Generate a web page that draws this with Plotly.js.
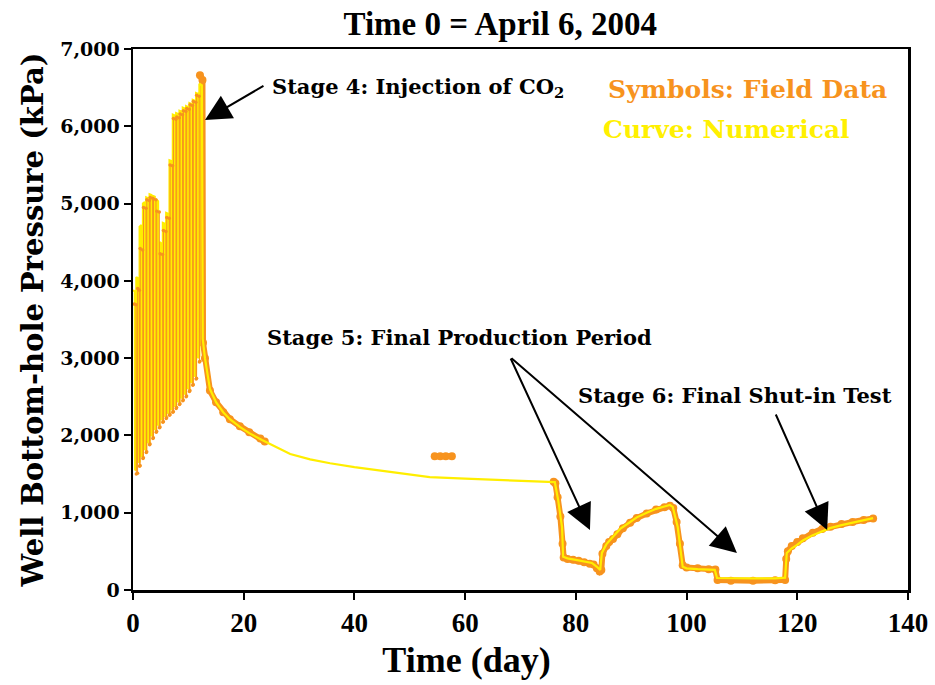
<!DOCTYPE html>
<html>
<head>
<meta charset="utf-8">
<script src="https://cdn.plot.ly/plotly-3.0.1.min.js"></script>
<style>html,body{margin:0;padding:0;background:#fff;}#chart{width:935px;height:685px;}</style>
</head>
<body>
<div id="chart"></div>
<script>
// Numerical (curve) results: time in days, bottom-hole pressure in kPa
const numTime = [
  0.00, 0.33, 0.38, 0.58,
  0.60, 0.93, 0.98, 1.18,
  1.20, 1.53, 1.58, 1.78,
  1.80, 2.13, 2.18, 2.38,
  2.40, 2.73, 2.78, 2.98,
  3.00, 3.33, 3.38, 3.58,
  3.60, 3.93, 3.98, 4.18,
  4.20, 4.53, 4.58, 4.78,
  4.80, 5.13, 5.18, 5.38,
  5.40, 5.73, 5.78, 5.98,
  6.00, 6.33, 6.38, 6.58,
  6.60, 6.93, 6.98, 7.18,
  7.20, 7.53, 7.58, 7.78,
  7.80, 8.13, 8.18, 8.38,
  8.40, 8.73, 8.78, 8.98,
  9.00, 9.33, 9.38, 9.58,
  9.60, 9.93, 9.98, 10.18,
  10.20, 10.53, 10.58, 10.78,
  10.80, 11.13, 11.18, 11.38,
  11.40, 11.73, 11.78, 11.98,
  12.00, 12.45, 12.60,
  13.0, 13.9, 15.0, 16.3, 17.5, 19.3, 21.0, 23.3, 26.0, 28.4, 32.0, 35.6, 40.0, 45.0, 50.0, 53.6, 60.0, 65.0, 70.0, 75.0, 76.2,
  76.8, 77.5, 77.7, 78.5, 80.0, 81.5, 82.9, 83.8, 84.4,
  84.7, 85.5, 86.7, 88.0, 89.8, 91.0, 92.8, 94.5, 96.0, 97.0,
  97.5, 98.4, 99.3, 100.0, 102.0, 104.0, 105.1,
  105.5, 108.0, 112.0, 116.0, 117.8,
  118.1, 119.0, 119.9, 121.0, 122.8, 124.5, 125.9, 128.0, 130.0, 132.0, 133.7
];
const numBHP = [
  3880, 3860, 1550, 1560,
  4050, 4030, 1650, 1660,
  4700, 4720, 1720, 1740,
  5000, 5020, 1810, 1820,
  5080, 5070, 1900, 1910,
  5120, 5110, 1990, 2000,
  5100, 5090, 2070, 2080,
  5050, 5030, 2130, 2140,
  4500, 4480, 2200, 2210,
  4750, 4740, 2240, 2250,
  4880, 4870, 2280, 2290,
  5560, 5550, 2330, 2340,
  6150, 6140, 2370, 2380,
  6170, 6160, 2430, 2440,
  6200, 6190, 2480, 2490,
  6240, 6230, 2530, 2540,
  6260, 6250, 2600, 2610,
  6300, 6290, 2680, 2690,
  6340, 6330, 2760, 2780,
  6430, 6420, 3000, 3020,
  6550, 6530, 3250,
  3000, 2600, 2430, 2300, 2210, 2110, 2030, 1940, 1850, 1760, 1690, 1640, 1590, 1540, 1490, 1460, 1440, 1425, 1410, 1400, 1395,
  1165, 815, 430, 410, 390, 370, 350, 300, 260,
  480, 590, 690, 790, 880, 940, 1000, 1050, 1080, 1100,
  1075, 815, 300, 280, 270, 265, 260,
  155, 150, 150, 150, 160,
  480, 540, 580, 640, 710, 760, 800, 840, 870, 900, 930
];

// Field data (symbols) during the injection cycles, days / kPa
const fieldCycleTime = [
  0.25, 0.55, 0.60, 0.83,
  0.85, 1.15, 1.20, 1.28,
  1.30, 1.75, 1.80, 1.88,
  1.90, 2.35, 2.40, 2.48,
  2.50, 2.95, 3.00, 3.08,
  3.10, 3.55, 3.60, 3.68,
  3.70, 4.15, 4.20, 4.28,
  4.30, 4.75, 4.80, 4.88,
  4.90, 5.35, 5.40, 5.48,
  5.50, 5.95, 6.00, 6.08,
  6.10, 6.55, 6.60, 6.68,
  6.70, 7.15, 7.20, 7.28,
  7.30, 7.75, 7.80, 7.88,
  7.90, 8.35, 8.40, 8.48,
  8.50, 8.95, 9.00, 9.08,
  9.10, 9.55, 9.60, 9.68,
  9.70, 10.15, 10.20, 10.28,
  10.30, 10.75, 10.80, 10.88,
  10.90, 11.35, 11.40, 11.48,
  11.50, 11.95, 12.00, 12.08
];
const fieldCycleBHP = [
  3700, 3690, 1500, 1510,
  3900, 3880, 1600, 1610,
  4420, 4400, 1700, 1710,
  4950, 4940, 1780, 1790,
  5050, 5040, 1880, 1890,
  5080, 5070, 1960, 1970,
  5060, 5050, 2040, 2050,
  4900, 4890, 2100, 2110,
  4350, 4340, 2170, 2180,
  4650, 4640, 2220, 2230,
  4820, 4810, 2260, 2270,
  5500, 5490, 2300, 2310,
  6100, 6090, 2350, 2360,
  6120, 6110, 2400, 2410,
  6160, 6150, 2450, 2460,
  6200, 6190, 2500, 2510,
  6230, 6220, 2570, 2580,
  6280, 6270, 2650, 2660,
  6320, 6310, 2730, 2740,
  6400, 6390, 2950, 2960
];

// Field data (symbols) after the last injection, days / kPa (null = no data gap)
const fieldTime = [
  12.10, 12.55, 12.65,
  13.0, 13.9, 15.0, 16.3, 17.5, 19.3, 21.0, 23.0, 23.8,
  null,
  54.5, 55.5, 56.5, 57.6,
  null,
  76.0, 76.3, 76.7, 77.2, 77.6, 77.8, 78.5, 79.5, 80.5, 81.5, 82.5, 83.2, 83.8, 84.3, 84.6,
  84.8, 85.5, 86.0, 86.7, 87.5, 88.5, 89.8, 91.0, 92.8, 94.5, 96.0, 97.0,
  97.6, 98.2, 98.8, 99.3, 100.0, 102.0, 104.0, 105.2,
  105.6, 108.0, 112.0, 116.0, 117.8,
  118.0, 118.3, 119.0, 120.0, 121.0, 122.8, 124.5, 126.0, 128.0, 130.0, 132.0, 133.7
];
const fieldBHP = [
  6660, 6600, 3200,
  3000, 2580, 2430, 2300, 2210, 2120, 2040, 1960, 1920,
  null,
  1730, 1730, 1730, 1730,
  null,
  1400, 1380, 1200, 950, 600, 420, 400, 390, 380, 360, 340, 330, 280, 240, 260,
  470, 570, 620, 660, 720, 800, 870, 930, 990, 1040, 1070, 1090,
  1060, 880, 600, 320, 290, 280, 270, 265,
  130, 120, 120, 125, 130,
  400, 500, 570, 620, 670, 740, 790, 820, 855, 880, 905, 925
];

const xTicks = [0, 20, 40, 60, 80, 100, 120, 140];
const yTicks = [0, 1000, 2000, 3000, 4000, 5000, 6000, 7000];

const ORANGE = '#F7931E';
const YELLOW = '#FFEE00';
const SERIF_B = 'DejaVu Serif';
const TIMES = 'Liberation Serif';

const traces = [
  {
    x: fieldTime, y: fieldBHP, type: 'scatter', mode: 'lines+markers',
    name: 'Field Data', connectgaps: false,
    line: {color: ORANGE, width: 6},
    marker: {color: ORANGE, size: 8, symbol: 'circle'},
    hoverinfo: 'x+y'
  },
  {
    x: numTime, y: numBHP, type: 'scatter', mode: 'lines',
    name: 'Numerical', line: {color: YELLOW, width: 2.2},
    hoverinfo: 'x+y'
  },
  {
    x: fieldCycleTime, y: fieldCycleBHP, type: 'scatter', mode: 'lines+markers',
    name: 'Field Data (injection cycles)',
    line: {color: ORANGE, width: 1},
    marker: {color: ORANGE, size: 3.5, symbol: 'circle'},
    hoverinfo: 'x+y'
  }
];

const arrowBase = {text: '', showarrow: true, arrowhead: 2, arrowsize: 2.6, arrowwidth: 2, arrowcolor: '#000',
  xref: 'x', yref: 'y', axref: 'x', ayref: 'y'};

const layout = {
  width: 935, height: 685,
  margin: {l: 133, r: 27, t: 49, b: 95},
  paper_bgcolor: '#fff', plot_bgcolor: '#fff',
  showlegend: false,
  title: {
    text: 'Time 0 = April 6, 2004',
    font: {family: TIMES, size: 33, color: '#000', weight: 'bold'},
    x: 0.535, xref: 'container', xanchor: 'center',
    y: 0.966, yref: 'container', yanchor: 'middle'
  },
  xaxis: {
    range: [0, 140], tickvals: xTicks, ticks: 'outside', ticklen: 7, tickwidth: 2, tickcolor: '#000',
    showline: true, linewidth: 2.5, linecolor: '#000', mirror: true,
    showgrid: false, zeroline: false,
    tickfont: {family: TIMES, size: 27, color: '#000', weight: 'bold'},
    title: {text: 'Time (day)' + '\u00a0'.repeat(12) + '\u200b', font: {family: TIMES, size: 36, color: '#000', weight: 'bold'}, standoff: 10}
  },
  yaxis: {
    range: [0, 7000], tickvals: yTicks, tickformat: ',d', ticks: 'outside', ticklen: 7, tickwidth: 2, tickcolor: '#000',
    showline: true, linewidth: 2.5, linecolor: '#000', mirror: true,
    showgrid: false, zeroline: false,
    tickfont: {family: SERIF_B, size: 19, color: '#000', weight: 'bold'},
    title: {text: 'Well Bottom-hole Pressure (kPa)', font: {family: SERIF_B, size: 29, color: '#000', weight: 'bold'}, standoff: 8}
  },
  annotations: [
    {text: 'Stage 4: Injection of CO<sub>2</sub>', x: 24.75, y: 6508, xref: 'x', yref: 'y', xanchor: 'left', yanchor: 'middle', showarrow: false,
      font: {family: SERIF_B, size: 21, color: '#000', weight: 'bold'}},
    {text: 'Symbols: Field Data', x: 85.4, y: 6482, xref: 'x', yref: 'y', xanchor: 'left', yanchor: 'middle', showarrow: false,
      font: {family: SERIF_B, size: 25, color: ORANGE, weight: 'bold'}},
    {text: 'Curve: Numerical', x: 84.5, y: 5964, xref: 'x', yref: 'y', xanchor: 'left', yanchor: 'middle', showarrow: false,
      font: {family: SERIF_B, size: 25, color: '#FFF000', weight: 'bold'}},
    {text: 'Stage 5: Final Production Period', x: 23.84, y: 3273, xref: 'x', yref: 'y', xanchor: 'left', yanchor: 'middle', showarrow: false,
      font: {family: SERIF_B, size: 21, color: '#000', weight: 'bold'}},
    {text: 'Stage 6: Final Shut-in Test', x: 80.0, y: 2523, xref: 'x', yref: 'y', xanchor: 'left', yanchor: 'middle', showarrow: false,
      font: {family: SERIF_B, size: 21, color: '#000', weight: 'bold'}},
    Object.assign({}, arrowBase, {x: 13.0, y: 6081, ax: 23.84, ay: 6534}),
    Object.assign({}, arrowBase, {x: 82.55, y: 776, ax: 68.1, ay: 3015}),
    Object.assign({}, arrowBase, {x: 109.1, y: 479, ax: 68.1, ay: 3015}),
    Object.assign({}, arrowBase, {x: 125.4, y: 776, ax: 116.0, ay: 2290})
  ]
};

Plotly.newPlot('chart', traces, layout, {displayModeBar: false, staticPlot: true});
</script>
</body>
</html>
